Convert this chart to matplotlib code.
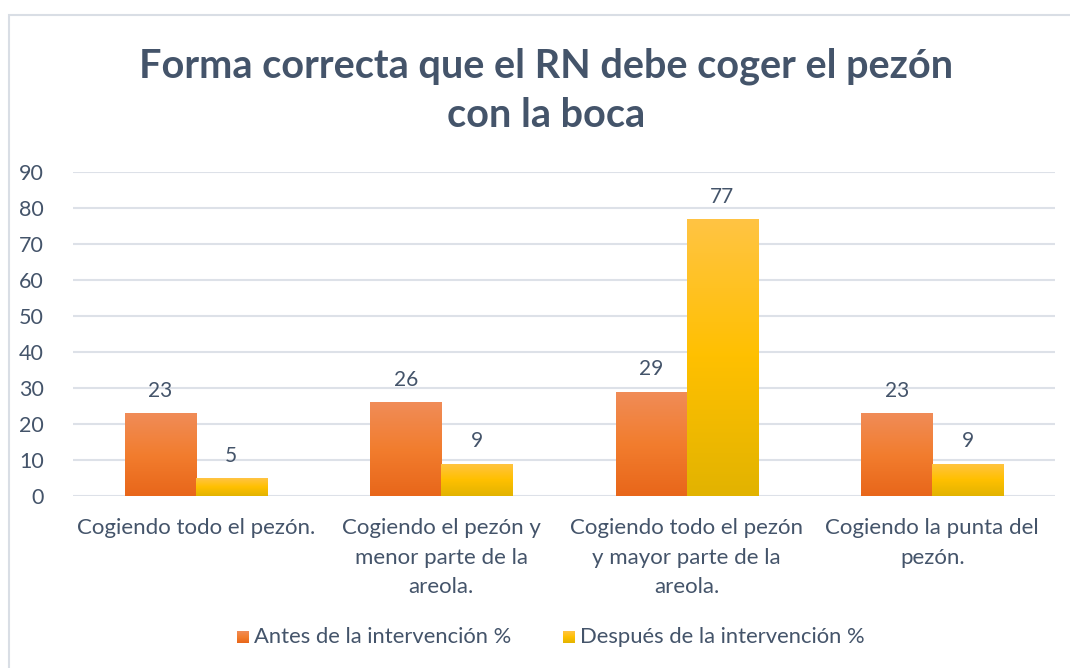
import numpy as np
import matplotlib.pyplot as plt
from matplotlib.colors import LinearSegmentedColormap
from matplotlib.patches import Rectangle

categories = ['Cogiendo todo el pezón.',
              'Cogiendo el pezón y\nmenor parte de la\nareola.',
              'Cogiendo todo el pezón\ny mayor parte de la\nareola.',
              'Cogiendo la punta del\npezón.']
antes = [23, 26, 29, 23]
despues = [5, 9, 77, 9]
series_names = ['Antes de la intervención %', 'Después de la intervención %']

plt.rcParams['font.family'] = ['Lato', 'DejaVu Sans']
text_col = '#44546A'

fig = plt.figure(figsize=(10.7, 6.68), dpi=100)
W, H = 1070, 668

# light frame around the chart (clipped right/bottom like the source)
fig.patches.append(Rectangle((9 / W, -0.1), 1.2, 1 - 15 / H + 0.1, transform=fig.transFigure,
                             fill=False, edgecolor='#D9DEE5', linewidth=1.5))

ax = fig.add_axes([73 / W, 1 - 496 / H, (1055 - 73) / W, (496 - 172) / H])

orange_cm = LinearSegmentedColormap.from_list('o', ['#E8661A', '#F27D2E', '#F08C58'])
yellow_cm = LinearSegmentedColormap.from_list('y', ['#E2B300', '#FFC000', '#FFC444'])

x = np.arange(len(categories))
w = 0.29
grad = np.linspace(0, 1, 256).reshape(-1, 1)


def gradient_bars(xs, vals, cmap):
    bars = ax.bar(xs, vals, w, color='none', edgecolor='none', zorder=3)
    for b in bars:
        x0 = b.get_x()
        im = ax.imshow(grad, cmap=cmap, origin='lower', aspect='auto',
                       extent=[x0, x0 + b.get_width(), 0, b.get_height()], zorder=3)
        im.set_clip_path(b)
    return bars


b1 = gradient_bars(x - w / 2, antes, orange_cm)
b2 = gradient_bars(x + w / 2, despues, yellow_cm)

for bars, vals in [(b1, antes), (b2, despues)]:
    for b, v in zip(bars, vals):
        ax.text(b.get_x() + b.get_width() / 2, v + 3.4, str(v), ha='center', va='bottom',
                fontsize=15, color=text_col)

ax.set_xlim(-0.5, 3.5)
ax.set_ylim(0, 90)
ax.set_yticks(range(0, 91, 10))
ax.set_xticks(x)
ax.set_xticklabels(categories, fontsize=16, color=text_col, linespacing=1.6)
ax.tick_params(axis='y', labelsize=15.5, labelcolor=text_col, length=0, pad=21)
ax.tick_params(axis='x', length=0, pad=16)
ax.grid(axis='y', color='#DDE1E8', linewidth=1.5, zorder=0)
ax.set_axisbelow(True)
for s in ax.spines.values():
    s.set_visible(False)

fig.text(546 / W, 1 - 91 / H, 'Forma correcta que el RN debe coger el pezón\ncon la boca',
         ha='center', va='center', fontsize=28.5, fontweight='bold', color=text_col,
         linespacing=1.4)

# legend
leg_y = 1 - 637 / H
for lx, name, cm in [(237, series_names[0], orange_cm), (563, series_names[1], yellow_cm)]:
    lax = fig.add_axes([lx / W, leg_y - 6 / H, 12 / W, 12 / H])
    lax.imshow(grad, cmap=cm, origin='lower', aspect='auto')
    lax.axis('off')
    fig.text((lx + 17) / W, leg_y, name, ha='left', va='center', fontsize=15.8, color=text_col)

fig.savefig('out.png', dpi=100)
